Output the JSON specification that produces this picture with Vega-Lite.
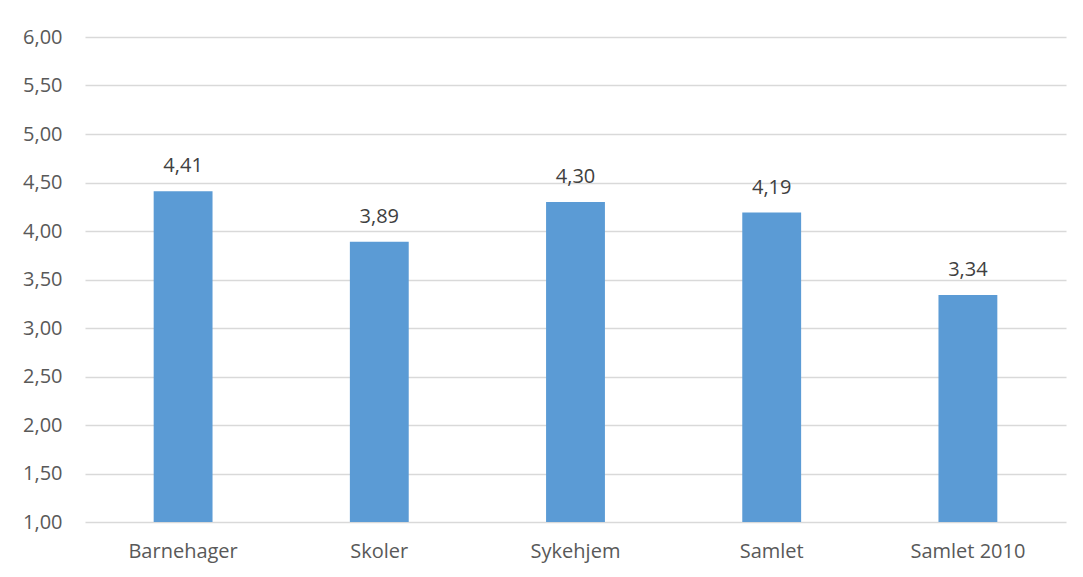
{
  "$schema": "https://vega.github.io/schema/vega-lite/v6.json",
  "width": 981,
  "height": 485,
  "autosize": "none",
  "padding": {"left": 85, "top": 37, "right": 17, "bottom": 55},
  "background": "white",
  "config": {
    "locale": {"number": {"decimal": ",", "thousands": " ", "grouping": [3], "currency": ["", " kr"]}},
    "view": {"stroke": null},
    "font": "Open Sans"
  },
  "data": {
    "values": [
      {"kategori": "Barnehager", "verdi": 4.41},
      {"kategori": "Skoler", "verdi": 3.89},
      {"kategori": "Sykehjem", "verdi": 4.30},
      {"kategori": "Samlet", "verdi": 4.19},
      {"kategori": "Samlet 2010", "verdi": 3.34}
    ]
  },
  "encoding": {
    "x": {
      "field": "kategori", "type": "nominal", "sort": null,
      "scale": {"paddingInner": 0.7, "paddingOuter": 0.35},
      "axis": {"title": null, "labelAngle": 0, "domain": false, "ticks": false, "labelFont": "Open Sans", "labelFontSize": 20, "labelColor": "#595959", "labelPadding": 19}
    },
    "y": {
      "field": "verdi", "type": "quantitative",
      "scale": {"domain": [1, 6], "zero": false, "nice": false},
      "axis": {"title": null, "values": [1, 1.5, 2, 2.5, 3, 3.5, 4, 4.5, 5, 5.5, 6], "format": ".2f", "domain": false, "ticks": false, "gridColor": "#D9D9D9", "gridWidth": 1.3, "labelFont": "Open Sans", "labelFontSize": 20, "labelColor": "#595959", "labelPadding": 23}
    }
  },
  "layer": [
    {"mark": {"type": "bar", "color": "#5B9BD5"}, "encoding": {"y2": {"datum": 1}}},
    {
      "mark": {"type": "text", "baseline": "alphabetic", "dy": -19, "font": "Open Sans", "fontSize": 20, "color": "#404040"},
      "encoding": {"text": {"field": "verdi", "type": "quantitative", "format": ".2f"}}
    }
  ]
}
